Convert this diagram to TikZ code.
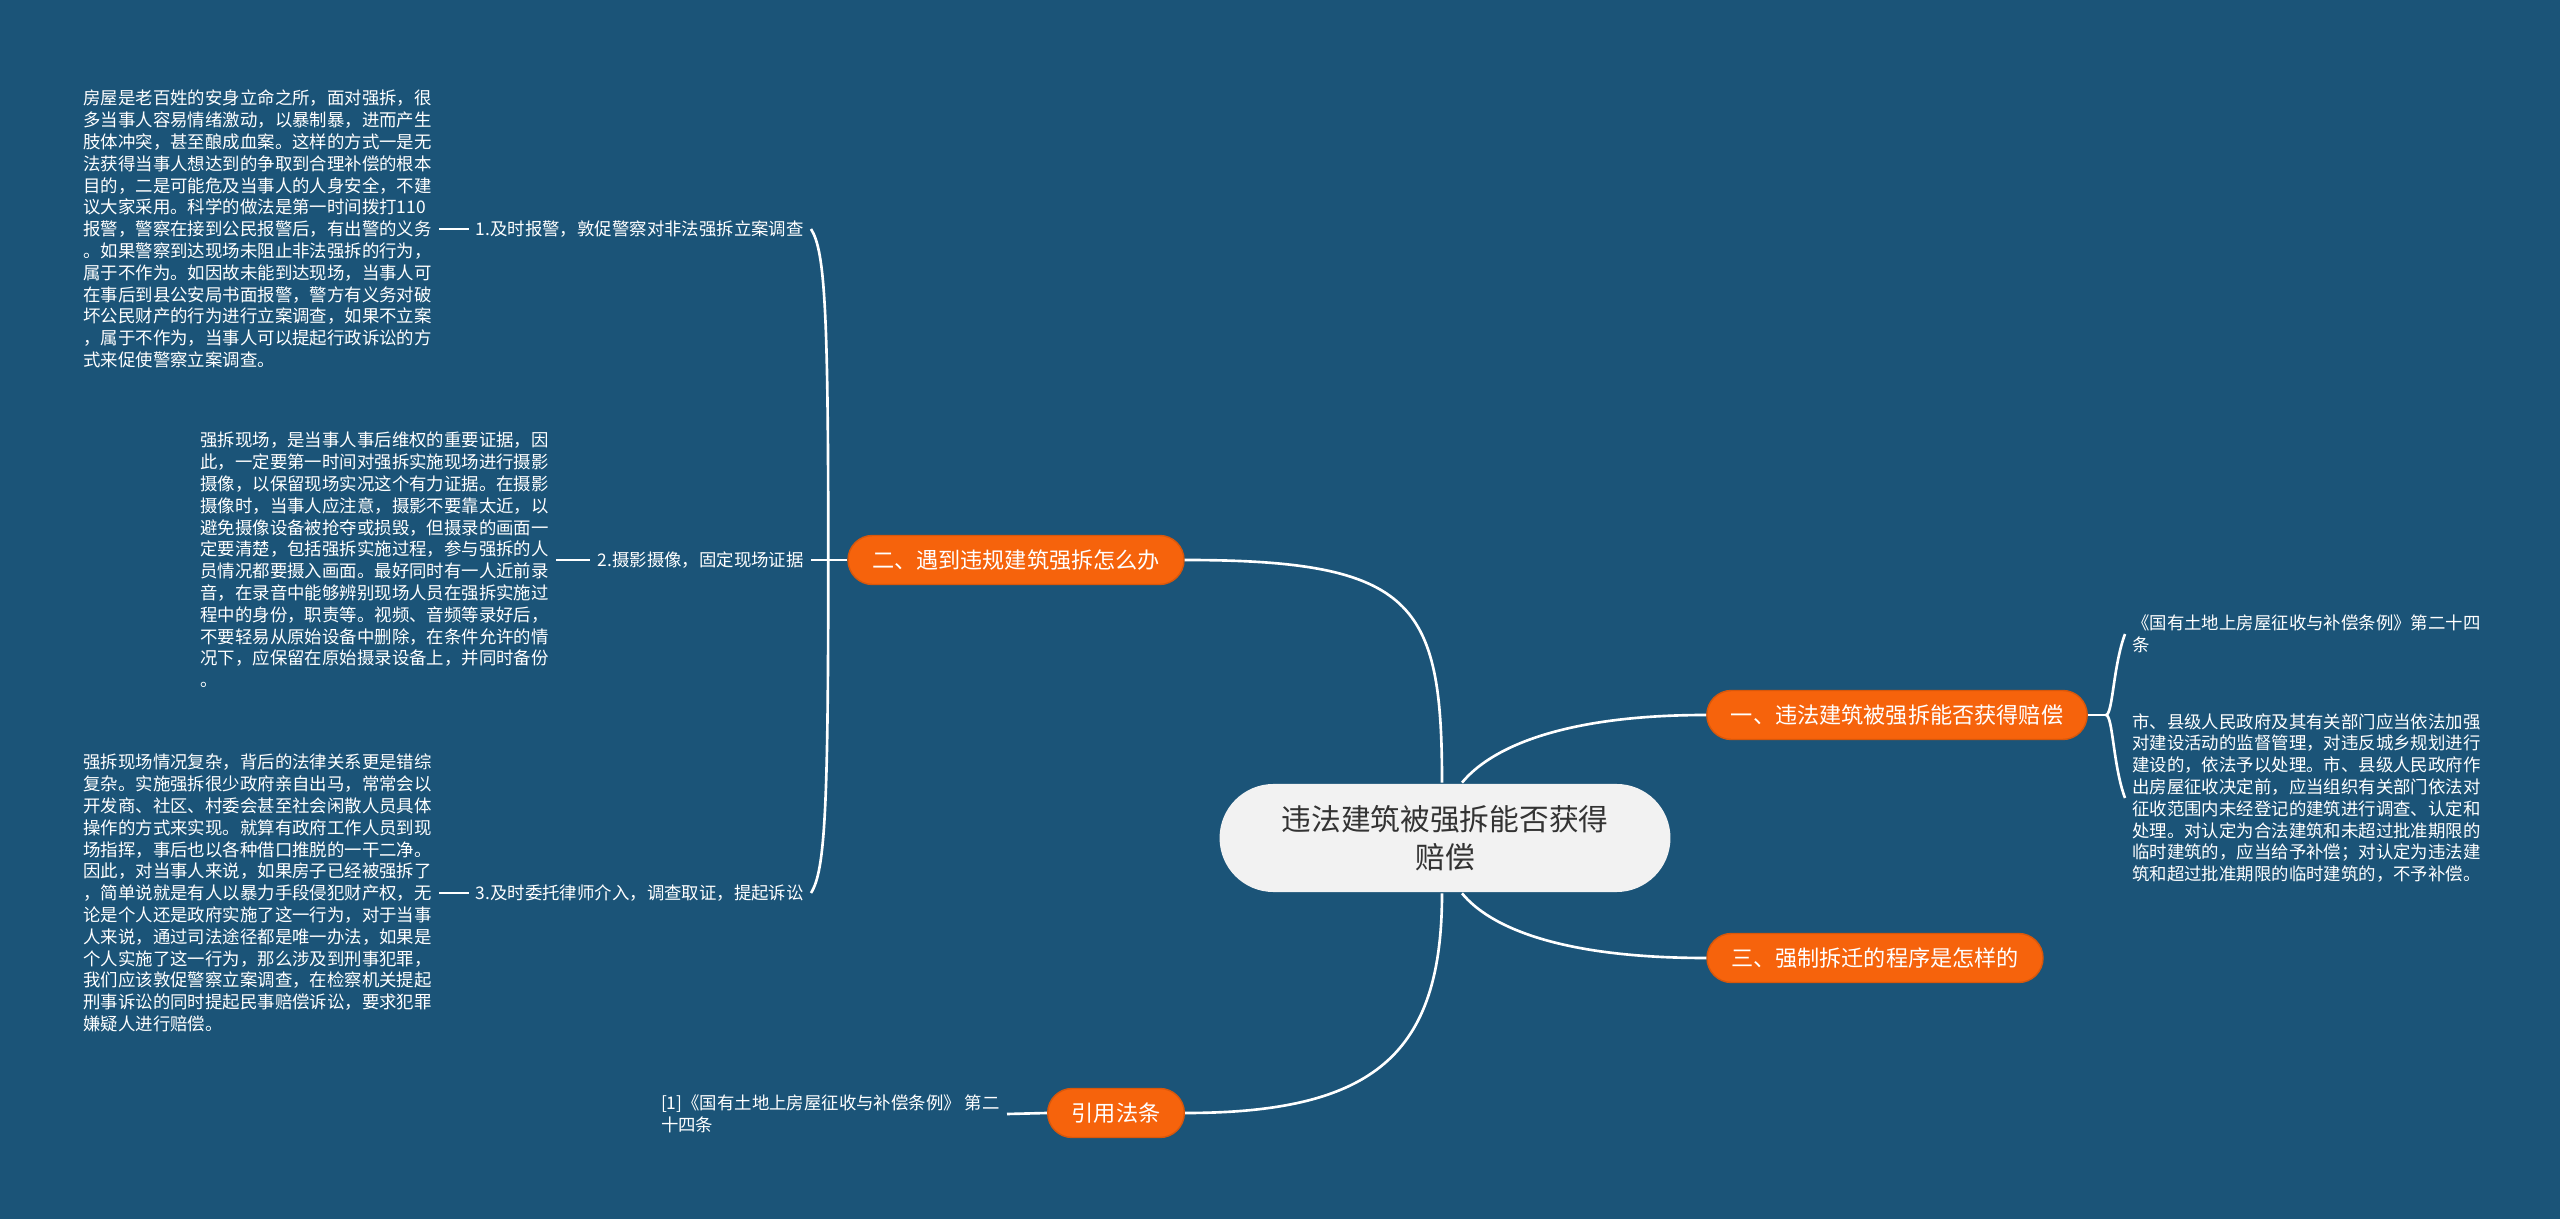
\documentclass[tikz,border=0pt]{standalone}
\usepackage{fontspec}
\setmainfont{Noto Sans CJK SC}
\usetikzlibrary{calc}
\definecolor{bgblue}{RGB}{27,84,120}
\definecolor{branchorange}{RGB}{246,99,12}
\definecolor{rootgray}{RGB}{242,242,242}
\definecolor{roottext}{RGB}{51,51,51}

\begin{document}
\begin{tikzpicture}[x=0.01cm,y=-0.01cm,line width=0.75pt]
\tikzset{rootbox/.style={fill=rootgray,rounded corners=0.54cm,minimum height=1.08cm,
  inner xsep=0.62cm,align=center,text=roottext,font=\fontsize{8.45}{10.8}\selectfont},
  branchbox/.style={fill=branchorange,draw=branchorange!88!black,line width=0.4pt,
  rounded corners=0.245cm,minimum height=0.49cm,inner xsep=0.24cm,text=white,
  font=\fontsize{6.3}{7.5}\selectfont},
  leaftext/.style={text=white,inner xsep=0.06cm,inner ysep=0pt,align=left,
  font=\fontsize{4.95}{6.2}\selectfont},
  link/.style={draw=white,line width=0.75pt}}
% ---- page ----
\fill[bgblue] (0,0) rectangle (2560,1219);
% ---- root and main branches ----
\node[rootbox] (root) at (1445,838) {违法建筑被强拆能否获得\\赔偿};
\node[branchbox] (b1) at (1897,715) {一、违法建筑被强拆能否获得赔偿};
\node[branchbox] (b2) at (1016,560) {二、遇到违规建筑强拆怎么办};
\node[branchbox] (b3) at (1875,958) {三、强制拆迁的程序是怎样的};
\node[branchbox] (b4) at (1116,1113) {引用法条};
\draw[link] ($(root.north)+(-3,0)$) .. controls +(0,-180) and +(230,0) .. (b2.east);
\draw[link] ($(root.north)+(17,0)$) .. controls +(28,-34) and +(-146,0) .. (b1.west);
\draw[link] ($(root.south)+(17,0)$) .. controls +(28,34) and +(-146,0) .. (b3.west);
\draw[link] ($(root.south)+(-3,0)$) .. controls +(0,160) and +(190,0) .. (b4.east);
% ---- left: what to do ----
\node[leaftext,anchor=east] (l1) at (811,229) {1.及时报警，敦促警察对非法强拆立案调查};
\node[leaftext,anchor=east] (l2) at (811,560) {2.摄影摄像，固定现场证据};
\node[leaftext,anchor=east] (l3) at (811,893) {3.及时委托律师介入，调查取证，提起诉讼};
\node[leaftext,anchor=east] (d1) at (439,229) {房屋是老百姓的安身立命之所，面对强拆，很\\
多当事人容易情绪激动，以暴制暴，进而产生\\
肢体冲突，甚至酿成血案。这样的方式一是无\\
法获得当事人想达到的争取到合理补偿的根本\\
目的，二是可能危及当事人的人身安全，不建\\
议大家采用。科学的做法是第一时间拨打110\\
报警，警察在接到公民报警后，有出警的义务\\
。如果警察到达现场未阻止非法强拆的行为，\\
属于不作为。如因故未能到达现场，当事人可\\
在事后到县公安局书面报警，警方有义务对破\\
坏公民财产的行为进行立案调查，如果不立案\\
，属于不作为，当事人可以提起行政诉讼的方\\
式来促使警察立案调查。};
\node[leaftext,anchor=east] (d2) at (556,560) {强拆现场，是当事人事后维权的重要证据，因\\
此，一定要第一时间对强拆实施现场进行摄影\\
摄像，以保留现场实况这个有力证据。在摄影\\
摄像时，当事人应注意，摄影不要靠太近，以\\
避免摄像设备被抢夺或损毁，但摄录的画面一\\
定要清楚，包括强拆实施过程，参与强拆的人\\
员情况都要摄入画面。最好同时有一人近前录\\
音，在录音中能够辨别现场人员在强拆实施过\\
程中的身份，职责等。视频、音频等录好后，\\
不要轻易从原始设备中删除，在条件允许的情\\
况下，应保留在原始摄录设备上，并同时备份\\
。};
\node[leaftext,anchor=east] (d3) at (439,893) {强拆现场情况复杂，背后的法律关系更是错综\\
复杂。实施强拆很少政府亲自出马，常常会以\\
开发商、社区、村委会甚至社会闲散人员具体\\
操作的方式来实现。就算有政府工作人员到现\\
场指挥，事后也以各种借口推脱的一干二净。\\
因此，对当事人来说，如果房子已经被强拆了\\
，简单说就是有人以暴力手段侵犯财产权，无\\
论是个人还是政府实施了这一行为，对于当事\\
人来说，通过司法途径都是唯一办法，如果是\\
个人实施了这一行为，那么涉及到刑事犯罪，\\
我们应该敦促警察立案调查，在检察机关提起\\
刑事诉讼的同时提起民事赔偿诉讼，要求犯罪\\
嫌疑人进行赔偿。};
\coordinate (j2) at ($(b2.west)+(-19,0)$);
\draw[link] (b2.west) -- (j2);
\draw[link] (j2) .. controls +(0,-250) and +(14,22) .. (l1.east);
\draw[link] (j2) -- (l2.east);
\draw[link] (j2) .. controls +(0,250) and +(14,-22) .. (l3.east);
\foreach \n in {1,2,3}{\draw[link] (d\n.east) -- (l\n.west);}
% ---- right: the regulation ----
\node[leaftext,anchor=west] (r1) at (2125,634) {《国有土地上房屋征收与补偿条例》第二十四\\条};
\node[leaftext,anchor=west] (r2) at (2125,798) {市、县级人民政府及其有关部门应当依法加强\\
对建设活动的监督管理，对违反城乡规划进行\\
建设的，依法予以处理。市、县级人民政府作\\
出房屋征收决定前，应当组织有关部门依法对\\
征收范围内未经登记的建筑进行调查、认定和\\
处理。对认定为合法建筑和未超过批准期限的\\
临时建筑的，应当给予补偿；对认定为违法建\\
筑和超过批准期限的临时建筑的，不予补偿。};
\coordinate (j1) at ($(b1.east)+(18,0)$);
\draw[link] (b1.east) -- (j1);
\draw[link] (j1) .. controls +(7,0) and +(-12,32) .. (r1.west);
\draw[link] (j1) .. controls +(7,0) and +(-12,-32) .. (r2.west);
% ---- bottom: cited law ----
\node[leaftext,anchor=east] (ref) at (1007,1114) {[1]《国有土地上房屋征收与补偿条例》 第二\\十四条};
\draw[link] (b4.west) -- (ref.east);
\end{tikzpicture}
\end{document}
